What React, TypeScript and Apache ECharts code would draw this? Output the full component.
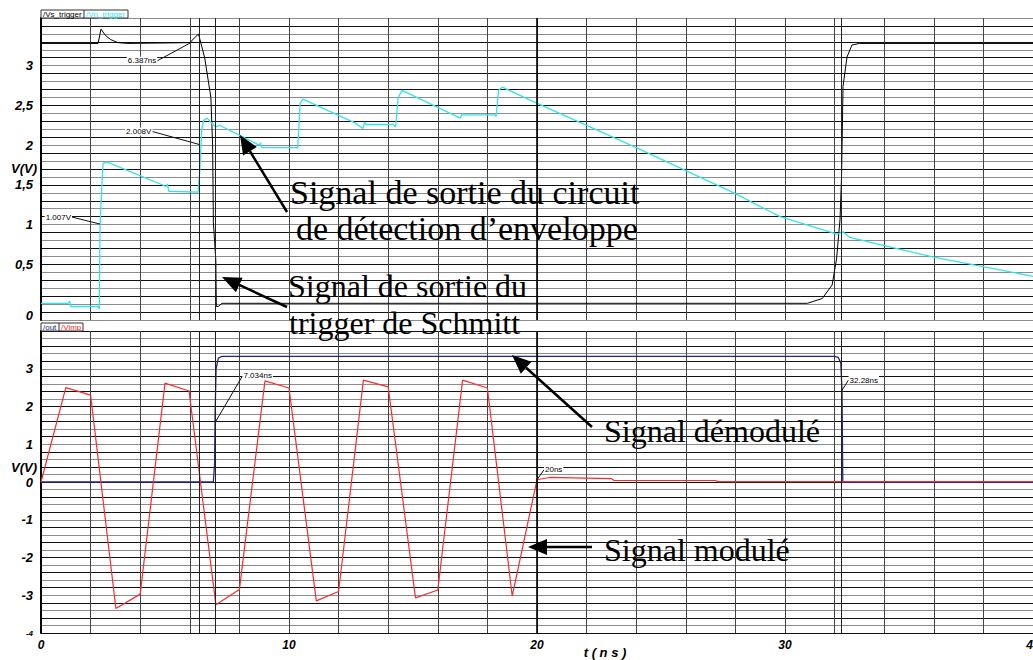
import React, { useEffect, useRef } from 'react';
import * as echarts from 'echarts';

// ---------- data (time in ns, voltage in V) ----------
// top panel: /Vs_trigger (black)
const vsTriggerT = [0, 2.3, 2.42, 2.6, 2.8, 3.1, 3.5, 6.0, 6.35, 6.6, 6.85, 6.92, 6.95, 7.05, 7.07, 7.15, 7.3, 30.9, 31.5, 31.9, 32.08, 32.22, 32.28, 32.34, 32.5, 32.7, 33, 40];
const vsTriggerV = [3.28, 3.28, 3.46, 3.38, 3.33, 3.29, 3.28, 3.29, 3.40, 3.1, 2.6, 2.0, 1.03, 0.55, -0.03, -0.03, 0.01, 0.01, 0.07, 0.24, 0.57, 1.07, 1.6, 2.74, 3.11, 3.26, 3.28, 3.28];
// top panel: /Vn_trigger (cyan)
const vnTriggerT = [0, 1.1, 1.15, 1.2, 2.3, 2.35, 2.38, 2.45, 2.5, 2.65, 5.05, 5.1, 5.15, 6.33, 6.4, 6.48, 6.55, 6.7, 6.9, 7.05, 7.2, 8.8, 8.85, 8.9, 10.3, 10.35, 10.45, 10.56, 12.66, 12.98, 13.05, 13.1, 14.2, 14.3, 14.4, 14.56, 16.9, 17.0, 17.05, 18.3, 18.35, 18.45, 18.6, 19.7, 22, 24, 26, 28, 29.8, 32.1, 32.34, 32.6, 36, 40];
const vnTriggerV = [0.01, 0.01, 0.04, -0.03, -0.03, -0.06, 0.97, 1.47, 1.77, 1.79, 1.48, 1.51, 1.42, 1.41, 1.66, 2.19, 2.31, 2.34, 2.27, 2.23, 2.25, 2.0, 2.03, 1.97, 1.97, 1.96, 2.53, 2.58, 2.28, 2.21, 2.29, 2.26, 2.26, 2.23, 2.6, 2.69, 2.34, 2.40, 2.38, 2.38, 2.36, 2.69, 2.73, 2.57, 2.25, 1.97, 1.68, 1.39, 1.1, 0.88, 0.91, 0.84, 0.59, 0.35];
// bottom panel: /out (navy)
const outT = [0, 6.95, 7.0, 7.02, 7.06, 7.15, 7.3, 32.0, 32.15, 32.25, 32.3, 32.33, 40];
const outV = [0, 0, 0.5, 1.8, 3.0, 3.28, 3.33, 3.33, 3.3, 3.15, 2.4, 0, 0];
// bottom panel: /Vimp (red)
const vimpT = [0, 1.0, 2.0, 3.02, 4.0, 5.0, 5.97, 7.05, 8.0, 9.03, 10.0, 11.1, 12.0, 13.0, 14.0, 15.1, 16.0, 17.0, 18.0, 19.0, 20.0, 20.5, 23.0, 23.1, 27.2, 27.3, 40];
const vimpV = [0, 2.5, 2.3, -3.35, -2.97, 2.62, 2.41, -3.25, -2.85, 2.68, 2.49, -3.15, -2.9, 2.7, 2.52, -3.07, -2.86, 2.7, 2.49, -3.02, 0.06, 0.12, 0.09, 0.04, 0.04, 0.01, 0.01];

// cursor positions (ns)
const cursorTimes = [6.387, 7.034, 20, 32.28];
// x tick labels
const xTickLabels = [0, 10, 20, 30, 40];
// y tick labels
const topYLabels = [0, 0.5, 1, 1.5, 2, 2.5, 3];
const bottomYLabels = [-4, -3, -2, -1, 0, 1, 2, 3];

// cursor readouts: anchor in data, label offset in px
const cursorLabels = [
  { grid: 0, t: 6.1, v: 3.3, text: '6.387ns', dx: -35, dy: 19, align: 'right' },
  { grid: 0, t: 6.387, v: 2.008, text: '2.008V', dx: -47, dy: -13, align: 'right' },
  { grid: 0, t: 2.38, v: 1.007, text: '1.007V', dx: -28, dy: -7, align: 'right' },
  { grid: 1, t: 7.034, v: 1.59, text: '7.034ns', dx: 27, dy: -46, align: 'left' },
  { grid: 1, t: 32.28, v: 2.41, text: '32.28ns', dx: 7, dy: -11, align: 'left' },
  { grid: 1, t: 20, v: 0.06, text: '20ns', dx: 7, dy: -10, align: 'left' },
];

// annotations (overlay text)
const notes = [
  { text: 'Signal de sortie du circuit', x: 290, y: 192, size: 34 },
  { text: 'de détection d’enveloppe', x: 296, y: 228, size: 34 },
  { text: 'Signal de sortie du', x: 288, y: 286, size: 32 },
  { text: 'trigger de Schmitt', x: 289, y: 323, size: 32 },
  { text: 'Signal démodulé', x: 604, y: 431, size: 32 },
  { text: 'Signal modulé', x: 604, y: 550, size: 32 },
];
const arrows = [
  { x1: 287, y1: 212, x2: 240, y2: 135 },
  { x1: 287, y1: 307, x2: 222, y2: 277 },
  { x1: 592, y1: 427, x2: 512, y2: 355 },
  { x1: 592, y1: 547, x2: 528, y2: 547 },
];

const FONT = '"Liberation Sans", Arial, sans-serif';
const SERIF = '"Liberation Serif", "Times New Roman", serif';

function pairs(t: number[], v: number[]) {
  return t.map((x, i) => [x, v[i]]);
}

function arrowGraphics(a: { x1: number; y1: number; x2: number; y2: number }) {
  const dx = a.x2 - a.x1, dy = a.y2 - a.y1;
  const len = Math.sqrt(dx * dx + dy * dy);
  const ux = dx / len, uy = dy / len;
  const L = 19, w = 8;
  const bx = a.x2 - L * ux, by = a.y2 - L * uy;
  const px = -uy, py = ux;
  return [
    { type: 'line', shape: { x1: a.x1, y1: a.y1, x2: bx, y2: by }, style: { stroke: '#000', lineWidth: 2.5 }, z: 100 },
    { type: 'polygon', shape: { points: [[a.x2, a.y2], [bx + w * px, by + w * py], [bx - w * px, by - w * py]] }, style: { fill: '#000' }, z: 100 },
  ];
}

const yLabelStyle = { fontFamily: FONT, fontStyle: 'italic', fontWeight: 'bold', fontSize: 13, color: '#000' };

export default function App() {
  const ref = useRef<HTMLDivElement>(null);
  useEffect(() => {
    if (!ref.current) return;
    const chart = echarts.init(ref.current, null, { renderer: 'svg' });
    const cursorMark = {
      silent: true,
      symbol: ['none', 'none'],
      label: { show: false },
      lineStyle: { color: '#222', type: 'solid', width: 1 },
      data: cursorTimes.map((t) => (t === 20 ? { xAxis: t, lineStyle: { color: '#000', width: 1.6, type: 'solid' } } : { xAxis: t })),
    };
    const xAxisBase = {
      type: 'value', min: 0, max: 40, interval: 2,
      axisLine: { show: false }, axisTick: { show: false },
      splitLine: { show: true, lineStyle: { color: '#444', width: 1 } },
    };
    const option: any = {
      animation: false,
      backgroundColor: '#fff',
      grid: [
        { left: 41, right: 0, top: 18, height: 302, outerBoundsMode: 'none', containLabel: false },
        { left: 41, right: 0, top: 331, height: 302, outerBoundsMode: 'none', containLabel: false },
      ],
      xAxis: [
        { ...xAxisBase, gridIndex: 0, axisLabel: { show: false } },
        {
          ...xAxisBase, gridIndex: 1,
          axisLabel: {
            show: true, margin: 6, ...yLabelStyle, fontSize: 12,
            formatter: (v: number) => (xTickLabels.includes(Math.round(v)) && Math.abs(v - Math.round(v)) < 1e-6 ? String(Math.round(v)) : ''),
          },
        },
      ],
      yAxis: [
        {
          gridIndex: 0, type: 'value', min: -0.2, max: 3.6, interval: 0.1,
          axisLine: { show: true, onZero: false, lineStyle: { color: '#000', width: 2 } },
          axisTick: { show: false },
          axisLabel: {
            margin: 8, ...yLabelStyle,
            formatter: (v: number) => {
              const hit = topYLabels.find((l) => Math.abs(l - v) < 1e-6);
              if (hit === undefined) return '';
              if (hit === 0) return '{z|0}';
              return String(hit).replace('.', ',');
            },
            rich: { z: { ...yLabelStyle, padding: [22, 0, 0, 0] } },
          },
          splitLine: { show: true, lineStyle: { color: ['#8c8c8c', '#111'], width: 1 } },
        },
        {
          gridIndex: 1, type: 'value', min: -4, max: 4, interval: 0.2,
          axisLine: { show: true, onZero: false, lineStyle: { color: '#000', width: 2 } },
          axisTick: { show: false },
          axisLabel: {
            margin: 8, ...yLabelStyle,
            formatter: (v: number) => {
              const hit = bottomYLabels.find((l) => Math.abs(l - v) < 1e-6);
              if (hit === undefined) return '';
              if (hit === -4) return '{s|-4}';
              return String(hit);
            },
            rich: { s: { ...yLabelStyle, fontSize: 8 } },
          },
          splitLine: { show: true, lineStyle: { color: ['#111', '#8c8c8c'], width: 1 } },
        },
      ],
      series: [
        {
          name: '/Vs_trigger', type: 'line', xAxisIndex: 0, yAxisIndex: 0, showSymbol: false,
          data: pairs(vsTriggerT, vsTriggerV), lineStyle: { color: '#000', width: 1 }, z: 3,
          markLine: cursorMark,
        },
        {
          name: '/Vn_trigger', type: 'line', xAxisIndex: 0, yAxisIndex: 0, showSymbol: false,
          data: pairs(vnTriggerT, vnTriggerV), lineStyle: { color: '#2ee6ee', width: 1.3 }, z: 4,
        },
        {
          name: '/out', type: 'line', xAxisIndex: 1, yAxisIndex: 1, showSymbol: false,
          data: pairs(outT, outV), lineStyle: { color: '#23238a', width: 1.3 }, z: 3,
          markLine: cursorMark,
        },
        {
          name: '/Vimp', type: 'line', xAxisIndex: 1, yAxisIndex: 1, showSymbol: false,
          data: pairs(vimpT, vimpV), lineStyle: { color: '#ff2a2a', width: 1.2 }, z: 4,
        },
      ],
    };
    chart.setOption(option);

    const g: any[] = [];
    // legend tabs
    g.push(
      { type: 'rect', shape: { x: 41, y: 10, width: 87, height: 8 }, style: { fill: '#fff', stroke: '#333', lineWidth: 1 }, z: 50 },
      { type: 'line', shape: { x1: 84, y1: 10, x2: 84, y2: 18 }, style: { stroke: '#333', lineWidth: 1 }, z: 51 },
      { type: 'text', x: 43, y: 14, style: { text: '/Vs_trigger', font: `8px ${FONT}`, fill: '#000', verticalAlign: 'middle' }, z: 52 },
      { type: 'text', x: 86, y: 14, style: { text: '/Vn_trigger', font: `8px ${FONT}`, fill: '#2ee6ee', verticalAlign: 'middle' }, z: 52 },
      { type: 'rect', shape: { x: 41, y: 323, width: 42, height: 8 }, style: { fill: '#fff', stroke: '#333', lineWidth: 1 }, z: 50 },
      { type: 'line', shape: { x1: 59, y1: 323, x2: 59, y2: 331 }, style: { stroke: '#333', lineWidth: 1 }, z: 51 },
      { type: 'text', x: 43, y: 327, style: { text: '/out', font: `8px ${FONT}`, fill: '#23238a', verticalAlign: 'middle' }, z: 52 },
      { type: 'text', x: 61, y: 327, style: { text: '/Vimp', font: `8px ${FONT}`, fill: '#ff2a2a', verticalAlign: 'middle' }, z: 52 },
    );
    // axis names
    g.push(
      { type: 'text', x: 24, y: 168, style: { text: 'V(V)', font: `italic bold 13px ${FONT}`, fill: '#000', align: 'center', verticalAlign: 'middle' } },
      { type: 'text', x: 24, y: 467, style: { text: 'V(V)', font: `italic bold 13px ${FONT}`, fill: '#000', align: 'center', verticalAlign: 'middle' } },
      { type: 'text', x: 605, y: 652, style: { text: 't ( n s )', font: `italic bold 13px ${FONT}`, fill: '#000', align: 'center', verticalAlign: 'middle' } },
    );
    // cursor readouts
    cursorLabels.forEach((c) => {
      const p = chart.convertToPixel({ gridIndex: c.grid } as any, [c.t, c.v]) as number[];
      if (!p) return;
      const lx = p[0] + c.dx, ly = p[1] + c.dy;
      g.push({ type: 'line', shape: { x1: p[0], y1: p[1], x2: lx, y2: ly }, style: { stroke: '#111', lineWidth: 1 }, z: 60 });
      g.push({
        type: 'text', x: lx, y: ly, z: 61,
        style: { text: c.text, font: `8px ${FONT}`, fill: '#000', align: c.align, verticalAlign: 'middle', backgroundColor: '#fff', padding: [0, 1, 0, 1] },
      });
    });
    // annotations
    notes.forEach((n) => {
      g.push({ type: 'text', x: n.x, y: n.y, z: 90, style: { text: n.text, font: `${n.size}px ${SERIF}`, fill: '#000', verticalAlign: 'middle' } });
    });
    arrows.forEach((a) => g.push(...arrowGraphics(a)));
    chart.setOption({ graphic: g });

    return () => chart.dispose();
  }, []);
  return <div ref={ref} style={{ position: 'fixed', left: 0, top: 0, width: 1033, height: 660 }} />;
}
